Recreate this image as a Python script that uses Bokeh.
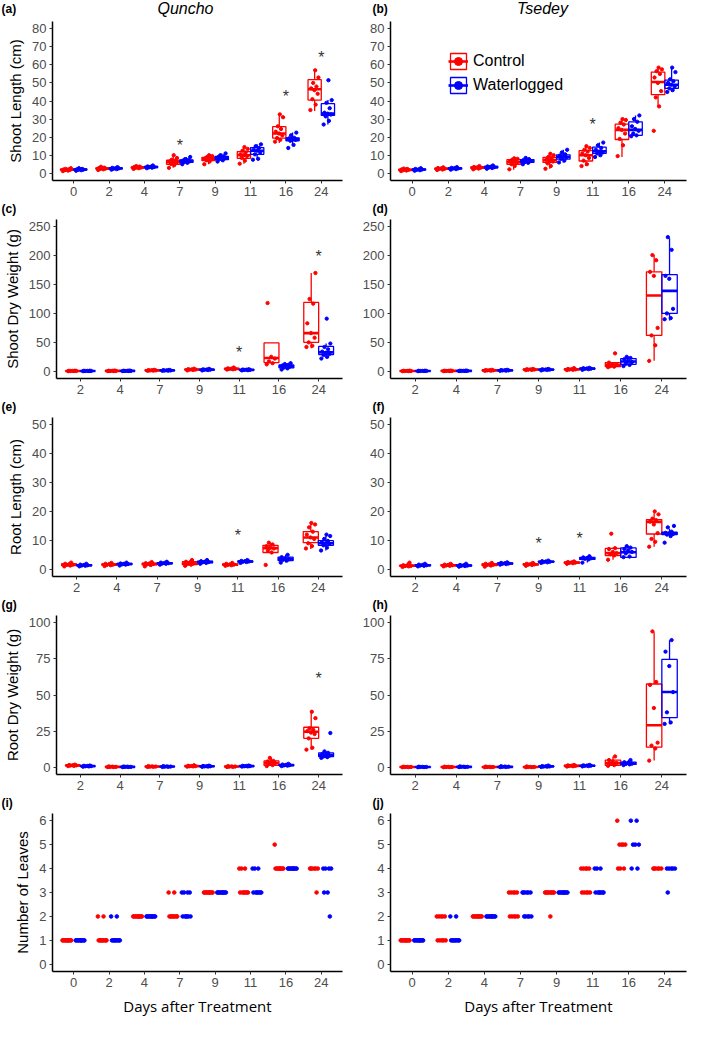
from bokeh.plotting import figure
from bokeh.layouts import column, row
from bokeh.models import Range1d, FixedTicker, ColumnDataSource, Legend, LegendItem
from bokeh.core.properties import value
from bokeh.embed import file_html
from bokeh.resources import INLINE

# ---------------- categories ----------------
days8 = ["0", "2", "4", "7", "9", "11", "16", "24"]
days7 = ["2", "4", "7", "9", "11", "16", "24"]
treatments = ["Control", "Waterlogged"]
cultivars = ["Quncho", "Tsedey"]
panel_letters = ["(a)", "(b)", "(c)", "(d)", "(e)", "(f)", "(g)", "(h)", "(i)", "(j)"]

# ---------------- box statistics: per day [low whisker, q1, median, q3, high whisker] ----------------
# (a) Quncho shoot length (cm)
qsl_ctrl_box = [[1.2, 1.7, 2.0, 2.3, 2.8], [1.8, 2.3, 2.6, 3.0, 3.6], [2.4, 2.9, 3.2, 3.5, 4.0], [3.0, 5.0, 6.2, 7.2, 10.0],
                [5.0, 7.0, 8.0, 8.8, 10.0], [5.3, 8.3, 10.0, 12.0, 14.5], [16.8, 19.5, 22.0, 25.8, 32.6], [34.5, 40.5, 46.5, 51.8, 56.5]]
qsl_wl_box = [[1.4, 1.8, 2.1, 2.4, 2.8], [2.0, 2.4, 2.7, 3.0, 3.4], [2.8, 3.2, 3.5, 3.8, 4.3], [5.0, 6.0, 6.8, 7.4, 9.0],
              [6.5, 7.5, 8.6, 9.3, 11.0], [7.5, 10.5, 12.5, 14.2, 16.0], [15.5, 18.0, 19.0, 19.6, 22.5], [27.0, 32.0, 33.0, 38.5, 40.5]]
qsl_ctrl_pts = [[1.2, 1.5, 1.7, 1.9, 2.0, 2.1, 2.2, 2.4, 2.8], [1.8, 2.2, 2.4, 2.6, 2.7, 2.9, 3.1, 3.6],
                [2.4, 2.8, 3.0, 3.2, 3.3, 3.5, 3.7, 4.0], [3.0, 4.5, 5.2, 5.8, 6.2, 6.6, 7.0, 7.5, 8.5, 10.0],
                [5.0, 6.5, 7.2, 7.8, 8.0, 8.3, 8.6, 9.0, 9.5, 10.0], [5.3, 7.0, 8.5, 9.5, 10.0, 10.5, 11.5, 12.5, 13.5, 14.5],
                [17.5, 18.5, 19.5, 21.0, 22.0, 23.0, 24.5, 26.0, 31.0, 32.6], [35.0, 38.0, 41.0, 44.0, 46.0, 47.0, 48.0, 50.0, 53.0, 57.0]]
qsl_wl_pts = [[1.4, 1.7, 1.9, 2.0, 2.1, 2.2, 2.4, 2.8], [2.0, 2.3, 2.5, 2.7, 2.8, 3.0, 3.4],
              [2.8, 3.1, 3.3, 3.5, 3.6, 3.8, 4.3], [5.0, 5.8, 6.2, 6.6, 6.8, 7.0, 7.3, 7.8, 9.0],
              [6.5, 7.2, 7.8, 8.3, 8.6, 9.0, 9.4, 10.0, 11.0], [7.5, 8.0, 10.5, 11.5, 12.5, 13.0, 14.0, 15.0, 16.0],
              [14.0, 15.7, 18.0, 18.5, 19.0, 19.3, 19.6, 21.0, 22.5], [27.0, 29.0, 31.5, 32.5, 33.0, 33.5, 36.0, 39.0, 40.5, 51.5]]
qsl_star_days = ["7", "16", "24"]
qsl_star_y = [15.5, 42.5, 64.0]

# (b) Tsedey shoot length (cm)
tsl_ctrl_box = [[1.2, 1.6, 1.9, 2.2, 2.6], [1.8, 2.2, 2.5, 2.9, 3.3], [2.2, 2.7, 3.1, 3.5, 4.0], [2.0, 5.0, 6.2, 7.5, 8.3],
                [2.5, 6.0, 7.3, 8.8, 10.8], [4.0, 6.8, 10.0, 12.5, 15.0], [9.0, 18.7, 24.0, 27.2, 30.0], [37.0, 43.5, 50.5, 56.0, 58.5]]
tsl_wl_box = [[1.4, 1.8, 2.1, 2.4, 2.8], [2.0, 2.4, 2.7, 3.0, 3.4], [2.5, 3.0, 3.4, 3.8, 4.3], [5.0, 6.0, 6.8, 7.6, 8.5],
              [6.0, 7.8, 9.0, 10.2, 13.0], [9.0, 11.0, 12.2, 14.5, 17.0], [20.5, 21.0, 24.0, 28.5, 32.0], [45.0, 47.0, 49.0, 51.5, 58.5]]
tsl_ctrl_pts = [[1.2, 1.5, 1.7, 1.9, 2.0, 2.2, 2.4, 2.6], [1.8, 2.1, 2.4, 2.5, 2.7, 2.9, 3.3],
                [2.2, 2.6, 2.9, 3.1, 3.3, 3.5, 4.0], [2.2, 4.0, 5.0, 5.8, 6.3, 6.8, 7.2, 7.5, 8.0, 8.3],
                [2.5, 4.0, 5.5, 6.5, 7.0, 7.5, 8.5, 9.0, 10.0, 10.8], [4.0, 5.0, 7.0, 8.5, 10.0, 11.0, 12.0, 13.0, 14.0, 15.0],
                [9.5, 15.5, 19.0, 22.0, 24.0, 25.0, 27.0, 28.0, 29.5, 30.0], [23.5, 37.0, 42.0, 45.5, 50.0, 53.0, 55.0, 56.5, 57.5, 58.5]]
tsl_wl_pts = [[1.4, 1.7, 1.9, 2.1, 2.2, 2.4, 2.8], [2.0, 2.3, 2.6, 2.7, 2.9, 3.0, 3.4],
              [2.5, 2.9, 3.2, 3.4, 3.6, 3.8, 4.3], [5.0, 5.8, 6.3, 6.8, 7.0, 7.4, 7.8, 8.5],
              [6.0, 7.0, 8.0, 8.8, 9.2, 9.8, 10.5, 11.5, 13.0], [9.0, 10.0, 11.0, 11.5, 12.0, 13.0, 14.0, 15.5, 17.0],
              [20.5, 21.0, 22.0, 23.5, 24.5, 26.0, 28.5, 30.0, 32.0], [45.0, 46.0, 47.0, 48.0, 49.0, 50.0, 51.0, 52.0, 56.0, 58.5]]
tsl_star_days = ["11"]
tsl_star_y = [27.0]

# (c) Quncho shoot dry weight (g)
qsw_ctrl_box = [[0.2, 0.4, 0.6, 0.8, 1.0], [0.3, 0.5, 0.7, 0.9, 1.2], [0.8, 1.2, 1.6, 2.0, 2.5], [1.5, 2.5, 3.0, 3.6, 4.5],
                [3.0, 3.6, 4.2, 5.0, 6.5], [12.0, 15.0, 23.0, 49.0, 49.0], [40.0, 50.0, 66.0, 119.0, 170.0]]
qsw_wl_box = [[0.2, 0.4, 0.6, 0.8, 1.0], [0.3, 0.5, 0.7, 0.9, 1.2], [0.8, 1.1, 1.5, 1.9, 2.4], [1.5, 2.2, 2.8, 3.3, 4.2],
              [1.5, 2.0, 2.5, 3.0, 3.5], [3.0, 6.0, 8.5, 11.0, 14.0], [22.0, 29.0, 33.0, 43.0, 48.0]]
qsw_ctrl_pts = [[0.2, 0.4, 0.5, 0.6, 0.7, 0.8, 1.0], [0.3, 0.5, 0.6, 0.7, 0.8, 0.9, 1.2], [0.8, 1.1, 1.4, 1.6, 1.8, 2.0, 2.5],
                [1.5, 2.3, 2.8, 3.0, 3.3, 3.6, 4.5], [3.0, 3.5, 4.0, 4.2, 4.6, 5.0, 6.5],
                [12.0, 14.0, 17.0, 22.0, 25.0, 118.0], [42.0, 44.0, 50.0, 58.0, 66.0, 83.0, 117.0, 125.0, 170.0]]
qsw_wl_pts = [[0.2, 0.4, 0.5, 0.6, 0.7, 0.8, 1.0], [0.3, 0.5, 0.6, 0.7, 0.8, 0.9, 1.2], [0.8, 1.0, 1.3, 1.5, 1.7, 1.9, 2.4],
              [1.5, 2.1, 2.5, 2.8, 3.0, 3.3, 4.2], [1.5, 1.9, 2.3, 2.5, 2.7, 3.0, 3.5],
              [3.0, 5.0, 6.5, 8.0, 9.0, 10.0, 11.0, 12.5, 14.0], [22.0, 25.0, 28.0, 30.0, 32.0, 34.0, 38.0, 42.0, 48.0, 91.0]]
qsw_star_days = ["11", "24"]
qsw_star_y = [32.0, 198.0]

# (d) Tsedey shoot dry weight (g)
tsw_ctrl_box = [[0.2, 0.4, 0.6, 0.8, 1.0], [0.3, 0.5, 0.7, 0.9, 1.2], [0.8, 1.2, 1.6, 2.0, 2.5], [2.0, 2.6, 3.0, 3.5, 4.0],
                [2.0, 2.8, 3.3, 4.0, 5.5], [7.0, 8.0, 11.0, 15.0, 16.0], [18.0, 62.0, 131.0, 172.0, 201.0]]
tsw_wl_box = [[0.2, 0.4, 0.6, 0.8, 1.0], [0.3, 0.5, 0.7, 0.9, 1.2], [0.8, 1.2, 1.6, 2.0, 2.5], [1.5, 2.4, 2.9, 3.4, 4.0],
              [2.5, 3.8, 4.5, 5.2, 6.0], [9.0, 12.0, 17.0, 22.0, 25.0], [88.0, 100.0, 139.0, 167.0, 230.0]]
tsw_ctrl_pts = [[0.2, 0.4, 0.5, 0.6, 0.7, 0.8, 1.0], [0.3, 0.5, 0.6, 0.7, 0.8, 0.9, 1.2], [0.8, 1.1, 1.4, 1.6, 1.8, 2.0, 2.5],
                [2.0, 2.5, 2.8, 3.0, 3.2, 3.5, 4.0], [2.0, 2.6, 3.0, 3.3, 3.7, 4.0, 5.5],
                [7.0, 8.0, 9.0, 11.0, 12.0, 15.0, 31.0], [18.0, 45.0, 62.0, 75.0, 165.0, 172.0, 192.0, 201.0]]
tsw_wl_pts = [[0.2, 0.4, 0.5, 0.6, 0.7, 0.8, 1.0], [0.3, 0.5, 0.6, 0.7, 0.8, 0.9, 1.2], [0.8, 1.1, 1.4, 1.6, 1.8, 2.0, 2.5],
              [1.5, 2.3, 2.7, 2.9, 3.1, 3.4, 4.0], [2.5, 3.6, 4.2, 4.5, 4.8, 5.2, 6.0],
              [9.0, 11.0, 13.0, 16.0, 18.0, 21.0, 23.0, 25.0], [90.0, 92.0, 100.0, 108.0, 160.0, 165.0, 210.0, 232.0]]
tsw_star_days = []
tsw_star_y = []

# (e) Quncho root length (cm)
qrl_ctrl_box = [[1.0, 1.3, 1.6, 1.9, 2.3], [1.1, 1.4, 1.6, 1.9, 2.2], [1.0, 1.5, 1.8, 2.1, 2.5], [1.2, 1.6, 2.0, 2.6, 3.2],
                [1.2, 1.4, 1.6, 1.9, 2.2], [5.5, 5.8, 7.3, 8.3, 9.2], [7.0, 9.2, 11.0, 13.0, 16.0]]
qrl_wl_box = [[1.0, 1.2, 1.4, 1.6, 1.9], [1.3, 1.6, 1.8, 2.0, 2.3], [1.6, 1.9, 2.1, 2.3, 2.6], [1.9, 2.2, 2.5, 2.8, 3.2],
              [2.2, 2.5, 2.7, 2.9, 3.2], [2.3, 3.0, 3.5, 4.2, 5.0], [6.5, 8.3, 9.0, 9.9, 12.0]]
qrl_ctrl_pts = [[1.0, 1.3, 1.5, 1.6, 1.7, 1.9, 2.3], [1.1, 1.4, 1.5, 1.6, 1.8, 1.9, 2.2], [1.0, 1.5, 1.7, 1.8, 2.0, 2.1, 2.5],
                [1.2, 1.6, 1.8, 2.0, 2.3, 2.6, 3.2], [1.2, 1.4, 1.5, 1.6, 1.7, 1.9, 2.2],
                [1.5, 5.8, 6.5, 7.2, 7.5, 8.0, 8.6, 9.2], [7.2, 8.0, 9.0, 10.5, 11.0, 12.0, 13.0, 14.5, 15.5, 16.0]]
qrl_wl_pts = [[1.0, 1.2, 1.3, 1.4, 1.5, 1.6, 1.9], [1.3, 1.6, 1.7, 1.8, 1.9, 2.0, 2.3], [1.6, 1.9, 2.0, 2.1, 2.2, 2.3, 2.6],
              [1.9, 2.2, 2.4, 2.5, 2.6, 2.8, 3.2], [2.2, 2.5, 2.6, 2.7, 2.8, 2.9, 3.2],
              [2.3, 3.0, 3.3, 3.5, 3.8, 4.2, 5.0], [6.5, 7.5, 8.3, 8.8, 9.0, 9.3, 9.8, 10.5, 11.5, 12.0]]
qrl_star_days = ["11"]
qrl_star_y = [11.6]

# (f) Tsedey root length (cm)
trl_ctrl_box = [[0.8, 1.0, 1.2, 1.4, 2.3], [1.0, 1.2, 1.4, 1.6, 1.9], [0.9, 1.3, 1.6, 1.9, 2.2], [1.2, 1.5, 1.7, 1.9, 2.2],
                [1.9, 2.1, 2.3, 2.5, 2.7], [3.3, 4.7, 5.6, 7.2, 7.5], [7.8, 12.2, 16.4, 17.2, 19.4]]
trl_wl_box = [[1.0, 1.2, 1.4, 1.6, 1.9], [0.9, 1.1, 1.3, 1.5, 1.9], [1.6, 1.8, 2.0, 2.2, 2.4], [2.2, 2.4, 2.6, 2.8, 3.0],
              [2.3, 3.4, 3.8, 4.1, 4.5], [4.1, 4.1, 5.9, 7.4, 8.0], [11.0, 12.0, 12.3, 12.8, 14.0]]
trl_ctrl_pts = [[0.8, 1.0, 1.1, 1.2, 1.3, 1.4, 2.3], [1.0, 1.2, 1.3, 1.4, 1.5, 1.6, 1.9], [0.9, 1.3, 1.5, 1.6, 1.7, 1.9, 2.2],
                [1.2, 1.5, 1.6, 1.7, 1.8, 1.9, 2.2], [1.9, 2.1, 2.2, 2.3, 2.4, 2.5, 2.7],
                [3.3, 4.8, 5.2, 5.6, 6.0, 7.0, 7.3, 12.3], [7.8, 9.5, 10.5, 12.5, 15.5, 16.5, 17.0, 17.5, 19.0, 20.0]]
trl_wl_pts = [[1.0, 1.2, 1.3, 1.4, 1.5, 1.6, 1.9], [0.9, 1.1, 1.2, 1.3, 1.4, 1.5, 1.9], [1.6, 1.8, 1.9, 2.0, 2.1, 2.2, 2.4],
              [2.2, 2.4, 2.5, 2.6, 2.7, 2.8, 3.0], [2.3, 3.4, 3.6, 3.8, 3.9, 4.1, 4.5],
              [4.2, 4.4, 5.5, 6.0, 6.5, 7.0, 7.5, 8.0], [9.2, 11.5, 12.0, 12.2, 12.4, 12.6, 13.0, 14.5, 15.0]]
trl_star_days = ["9", "11"]
trl_star_y = [8.9, 10.6]

# (g) Quncho root dry weight (g)
qrw_ctrl_box = [[0.8, 1.0, 1.3, 1.5, 1.8], [0.1, 0.2, 0.3, 0.4, 0.6], [0.2, 0.3, 0.5, 0.6, 0.8], [0.4, 0.6, 0.8, 1.0, 1.4],
                [0.2, 0.3, 0.5, 0.6, 0.8], [0.8, 1.3, 2.9, 4.4, 6.5], [12.2, 20.0, 24.6, 27.7, 38.4]]
qrw_wl_box = [[0.4, 0.6, 0.8, 1.0, 1.2], [0.1, 0.2, 0.3, 0.4, 0.5], [0.2, 0.3, 0.5, 0.6, 0.8], [0.3, 0.5, 0.7, 0.9, 1.1],
              [0.5, 0.6, 0.8, 1.0, 1.2], [0.8, 1.1, 1.5, 1.9, 2.4], [6.5, 7.3, 8.4, 10.0, 11.0]]
qrw_ctrl_pts = [[0.8, 1.0, 1.2, 1.3, 1.4, 1.5, 1.8], [0.1, 0.2, 0.3, 0.3, 0.4, 0.6], [0.2, 0.3, 0.4, 0.5, 0.6, 0.8],
                [0.4, 0.6, 0.7, 0.8, 0.9, 1.0, 1.4], [0.2, 0.3, 0.4, 0.5, 0.6, 0.8],
                [0.8, 1.5, 2.2, 2.9, 3.5, 4.0, 4.4, 6.5], [12.2, 13.5, 20.0, 23.0, 24.0, 25.0, 26.0, 27.0, 34.0, 38.4]]
qrw_wl_pts = [[0.4, 0.6, 0.7, 0.8, 0.9, 1.0, 1.2], [0.1, 0.2, 0.3, 0.3, 0.4, 0.5], [0.2, 0.3, 0.4, 0.5, 0.6, 0.8],
              [0.3, 0.5, 0.6, 0.7, 0.8, 0.9, 1.1], [0.5, 0.6, 0.7, 0.8, 0.9, 1.0, 1.2],
              [0.8, 1.1, 1.3, 1.5, 1.7, 1.9, 2.4], [6.5, 7.0, 7.5, 8.0, 8.5, 9.0, 10.0, 11.0, 23.7]]
qrw_star_days = ["24"]
qrw_star_y = [61.6]

# (h) Tsedey root dry weight (g)
trw_ctrl_box = [[0.0, 0.1, 0.2, 0.3, 0.4], [0.0, 0.1, 0.2, 0.3, 0.4], [0.0, 0.1, 0.2, 0.3, 0.5], [0.0, 0.1, 0.2, 0.3, 0.6],
                [0.5, 0.7, 1.0, 1.3, 1.6], [1.0, 1.3, 2.9, 5.0, 7.5], [4.6, 13.9, 29.1, 57.6, 93.4]]
trw_wl_box = [[0.0, 0.1, 0.2, 0.3, 0.4], [0.1, 0.2, 0.3, 0.4, 0.6], [0.1, 0.2, 0.3, 0.5, 0.7], [0.2, 0.4, 0.6, 0.8, 1.2],
              [0.6, 0.8, 1.1, 1.3, 1.6], [1.5, 2.0, 2.5, 3.5, 5.0], [29.8, 34.4, 52.1, 74.6, 87.9]]
trw_ctrl_pts = [[0.0, 0.1, 0.2, 0.2, 0.3, 0.4], [0.0, 0.1, 0.2, 0.2, 0.3, 0.4], [0.0, 0.1, 0.2, 0.2, 0.3, 0.5],
                [0.0, 0.1, 0.2, 0.2, 0.3, 0.6], [0.5, 0.7, 0.9, 1.0, 1.1, 1.3, 1.6],
                [1.0, 1.5, 2.5, 3.0, 4.0, 5.0, 7.5], [4.6, 13.0, 15.0, 17.0, 41.0, 57.0, 59.0, 94.0]]
trw_wl_pts = [[0.0, 0.1, 0.2, 0.2, 0.3, 0.4], [0.1, 0.2, 0.3, 0.3, 0.4, 0.6], [0.1, 0.2, 0.3, 0.4, 0.5, 0.7],
              [0.2, 0.4, 0.5, 0.6, 0.7, 0.8, 1.2], [0.6, 0.8, 1.0, 1.1, 1.2, 1.3, 1.6],
              [1.5, 2.0, 2.3, 2.5, 3.0, 3.5, 5.0], [30.0, 31.0, 38.0, 52.0, 70.0, 80.0, 88.0]]
trw_star_days = []
trw_star_y = []

# (i) Quncho number of leaves, per day
qlv_ctrl = [[1, 1, 1, 1, 1, 1, 1, 1, 1, 1], [2, 2, 1, 1, 1, 1, 1, 1, 1, 1], [2, 2, 2, 2, 2, 2, 2, 2, 2, 2],
            [3, 3, 2, 2, 2, 2, 2, 2, 2, 2], [3, 3, 3, 3, 3, 3, 3, 3, 3, 3], [4, 4, 4, 3, 3, 3, 3, 3, 3, 3],
            [5, 4, 4, 4, 4, 4, 4, 4, 4, 4], [4, 4, 4, 4, 4, 4, 3]]
qlv_wl = [[1, 1, 1, 1, 1, 1, 1, 1, 1, 1], [2, 2, 1, 1, 1, 1, 1, 1, 1, 1], [2, 2, 2, 2, 2, 2, 2, 2, 2, 2],
          [3, 3, 3, 3, 2, 2, 2, 2, 2, 2], [3, 3, 3, 3, 3, 3, 3, 3, 3, 3], [4, 4, 4, 3, 3, 3, 3, 3, 3, 3],
          [4, 4, 4, 4, 4, 4, 4, 4, 4, 4], [4, 4, 4, 4, 3, 3, 2]]
# (j) Tsedey number of leaves, per day
tlv_ctrl = [[1, 1, 1, 1, 1, 1, 1, 1, 1, 1], [2, 2, 2, 2, 2, 1, 1, 1, 1, 1], [2, 2, 2, 2, 2, 2, 2, 2, 2, 2],
            [3, 3, 3, 3, 3, 2, 2, 2, 2, 2], [3, 3, 3, 3, 3, 3, 3, 3, 3, 2], [4, 4, 4, 4, 4, 3, 3, 3, 3, 3],
            [6, 5, 5, 5, 5, 4, 4, 4], [4, 4, 4, 4, 4, 4]]
tlv_wl = [[1, 1, 1, 1, 1, 1, 1, 1, 1, 1], [2, 2, 1, 1, 1, 1, 1, 1, 1, 1], [2, 2, 2, 2, 2, 2, 2, 2, 2, 2],
          [3, 3, 3, 3, 3, 3, 2, 2, 2, 2, 2], [3, 3, 3, 3, 3, 3, 3, 3, 3, 3], [4, 4, 4, 3, 3, 3, 3, 3, 3, 3],
          [6, 6, 5, 5, 5, 4, 4], [4, 4, 4, 4, 4, 3]]

# ---------------- style / layout ----------------
RED = "#FF0000"
BLUE = "#0000FF"
BOXW = 0.375
DODGE = 0.1875
FONT = "Liberation Sans"
FRAME_H = 159
TOTAL_W = 690
LEFT_W, RIGHT_W = 346, 344


def spread(n, width):
    # deterministic horizontal spread of points inside a group (position only)
    if n == 1:
        return [0.0]
    return [((i * 0.618034) % 1.0 - 0.5) * width for i in range(n)]


def make_fig(col, kind, days, yr, yticks, ylabel=None, xlabel=None):
    top = 3
    bottom = 46 if kind == "last" else 22
    height = top + FRAME_H + bottom
    width, mbl = (LEFT_W, 52) if col == 0 else (RIGHT_W, 44)
    p = figure(width=width, height=height, min_border_left=mbl, min_border_right=4,
               min_border_top=top, min_border_bottom=bottom,
               x_range=Range1d(-0.6, len(days) - 0.4), y_range=Range1d(yr[0], yr[1]),
               output_backend="svg", toolbar_location=None, tools="")
    p.outline_line_color = None
    p.grid.visible = False
    p.xaxis.ticker = FixedTicker(ticks=list(range(len(days))))
    p.xaxis.major_label_overrides = {i: d for i, d in enumerate(days)}
    p.yaxis.ticker = FixedTicker(ticks=yticks)
    for ax in (p.xaxis[0], p.yaxis[0]):
        ax.axis_line_color = "black"
        ax.axis_line_width = 1.5
        ax.major_tick_line_color = "#333333"
        ax.major_tick_out = 3
        ax.major_tick_in = 0
        ax.minor_tick_line_color = None
        ax.major_label_text_color = "#4D4D4D"
        ax.major_label_text_font_size = "13px"
        ax.major_label_text_font = FONT
        ax.major_label_standoff = 3
    if ylabel:
        p.yaxis.axis_label = ylabel
        p.yaxis.axis_label_text_font = FONT
        p.yaxis.axis_label_text_font_size = "15px"
        p.yaxis.axis_label_text_font_style = "normal"
        p.yaxis.axis_label_text_color = "black"
        p.yaxis.axis_label_standoff = 5
    if xlabel:
        p.xaxis.axis_label = xlabel
        p.xaxis.axis_label_text_font = "Open Sans"
        p.xaxis.axis_label_text_font_size = "15px"
        p.xaxis.axis_label_text_font_style = "normal"
        p.xaxis.axis_label_text_color = "black"
        p.xaxis.axis_label_standoff = 6
    return p


def make_strip(height, texts):
    # a thin text-only strip holding panel letters / cultivar names
    s = figure(width=TOTAL_W, height=height, x_range=Range1d(0, TOTAL_W), y_range=Range1d(0, height),
               min_border=0, x_axis_type=None, y_axis_type=None,
               output_backend="svg", toolbar_location=None, tools="")
    s.outline_line_color = None
    s.grid.visible = False
    for (txt, x, align, size, style) in texts:
        s.text(x=[x], y=[height / 2 + 1], text=[txt], text_align=align, text_baseline="middle",
               text_font=value(FONT), text_font_size=size, text_font_style=style, text_color="black")
    return s


def draw_boxes(p, boxes, pts, offset, color):
    xs = [i + offset for i in range(len(boxes))]
    src = ColumnDataSource(dict(x=xs, left=[x - BOXW / 2 for x in xs], right=[x + BOXW / 2 for x in xs],
                                lo=[b[0] for b in boxes], q1=[b[1] for b in boxes], md=[b[2] for b in boxes],
                                q3=[b[3] for b in boxes], hi=[b[4] for b in boxes]))
    p.segment(x0="x", y0="q3", x1="x", y1="hi", source=src, line_color=color, line_width=1.3)
    p.segment(x0="x", y0="lo", x1="x", y1="q1", source=src, line_color=color, line_width=1.3)
    r_box = p.quad(left="left", right="right", bottom="q1", top="q3", source=src,
                   fill_color=None, line_color=color, line_width=1.3)
    r_med = p.segment(x0="left", y0="md", x1="right", y1="md", source=src, line_color=color, line_width=2.6)
    px, py = [], []
    for i, vals in enumerate(pts):
        for v, j in zip(vals, spread(len(vals), 0.24)):
            px.append(i + offset + j)
            py.append(v)
    r_pts = p.scatter(x=px, y=py, size=3.3, marker="circle", fill_color=color, line_color=color)
    return [r_box, r_med, r_pts]


def draw_stars(p, days, star_days, star_y):
    if not star_days:
        return
    p.text(x=[days.index(d) for d in star_days], y=star_y, text=["*"] * len(star_days),
           text_align="center", text_baseline="middle", text_font_size="16px",
           text_color="#333333", text_font=value(FONT))


def draw_leaves(p, ctrl, wl):
    for data, offset, color in ((ctrl, -DODGE, RED), (wl, DODGE, BLUE)):
        px, py = [], []
        for i, vals in enumerate(data):
            for v, j in zip(vals, spread(len(vals), 0.26)):
                px.append(i + offset + j)
                py.append(v)
        p.scatter(x=px, y=py, size=3.6, marker="circle", fill_color=color, line_color=color)


# ---------------- build panels ----------------
specs = [
    ("a", 0, "mid", days8, (-4, 84), [0, 10, 20, 30, 40, 50, 60, 70, 80], "Shoot Length (cm)",
     qsl_ctrl_box, qsl_wl_box, qsl_ctrl_pts, qsl_wl_pts, qsl_star_days, qsl_star_y),
    ("b", 1, "mid", days8, (-4, 84), [0, 10, 20, 30, 40, 50, 60, 70, 80], None,
     tsl_ctrl_box, tsl_wl_box, tsl_ctrl_pts, tsl_wl_pts, tsl_star_days, tsl_star_y),
    ("c", 0, "mid", days7, (-12.5, 262.5), [0, 50, 100, 150, 200, 250], "Shoot Dry Weight (g)",
     qsw_ctrl_box, qsw_wl_box, qsw_ctrl_pts, qsw_wl_pts, qsw_star_days, qsw_star_y),
    ("d", 1, "mid", days7, (-12.5, 262.5), [0, 50, 100, 150, 200, 250], None,
     tsw_ctrl_box, tsw_wl_box, tsw_ctrl_pts, tsw_wl_pts, tsw_star_days, tsw_star_y),
    ("e", 0, "mid", days7, (-2.5, 52.5), [0, 10, 20, 30, 40, 50], "Root Length (cm)",
     qrl_ctrl_box, qrl_wl_box, qrl_ctrl_pts, qrl_wl_pts, qrl_star_days, qrl_star_y),
    ("f", 1, "mid", days7, (-2.5, 52.5), [0, 10, 20, 30, 40, 50], None,
     trl_ctrl_box, trl_wl_box, trl_ctrl_pts, trl_wl_pts, trl_star_days, trl_star_y),
    ("g", 0, "mid", days7, (-5, 105), [0, 25, 50, 75, 100], "Root Dry Weight (g)",
     qrw_ctrl_box, qrw_wl_box, qrw_ctrl_pts, qrw_wl_pts, qrw_star_days, qrw_star_y),
    ("h", 1, "mid", days7, (-5, 105), [0, 25, 50, 75, 100], None,
     trw_ctrl_box, trw_wl_box, trw_ctrl_pts, trw_wl_pts, trw_star_days, trw_star_y),
]

figs = {}
legend_renderers = None
for (key, col, kind, days, yr, yt, ylab, cb, wb, cp, wp, sd, sy) in specs:
    p = make_fig(col, kind, days, yr, yt, ylab)
    rc = draw_boxes(p, cb, cp, -DODGE, RED)
    rw = draw_boxes(p, wb, wp, DODGE, BLUE)
    draw_stars(p, days, sd, sy)
    figs[key] = p
    if key == "b":
        legend_renderers = (rc, rw)

figs["i"] = make_fig(0, "last", days8, (-0.3, 6.3), [0, 1, 2, 3, 4, 5, 6], "Number of Leaves", "Days after Treatment")
draw_leaves(figs["i"], qlv_ctrl, qlv_wl)
figs["j"] = make_fig(1, "last", days8, (-0.3, 6.3), [0, 1, 2, 3, 4, 5, 6], None, "Days after Treatment")
draw_leaves(figs["j"], tlv_ctrl, tlv_wl)

# legend in panel (b)
leg = Legend(items=[LegendItem(label=treatments[0], renderers=legend_renderers[0]),
                    LegendItem(label=treatments[1], renderers=legend_renderers[1])],
             location=(58, 85), orientation="vertical", border_line_color=None,
             background_fill_alpha=0, label_text_font=FONT, label_text_font_size="16px",
             label_text_color="black", glyph_width=20, glyph_height=20, spacing=4,
             padding=0, margin=0, label_standoff=5)
figs["b"].add_layout(leg)

# header and letter strips
RIGHT_LETTER_X = LEFT_W + 26
header = make_strip(18, [(panel_letters[0], 1, "left", "12px", "bold"),
                         (cultivars[0], 185, "center", "16px", "italic"),
                         (panel_letters[1], RIGHT_LETTER_X, "left", "12px", "bold"),
                         (cultivars[1], 542, "center", "16px", "italic")])
strips = []
for k in range(4):
    strips.append(make_strip(14, [(panel_letters[2 + 2 * k], 1, "left", "12px", "bold"),
                                  (panel_letters[3 + 2 * k], RIGHT_LETTER_X, "left", "12px", "bold")]))

layout = column(header,
                row(figs["a"], figs["b"]), strips[0],
                row(figs["c"], figs["d"]), strips[1],
                row(figs["e"], figs["f"]), strips[2],
                row(figs["g"], figs["h"]), strips[3],
                row(figs["i"], figs["j"]))

open("out.html", "w").write(file_html(layout, INLINE))
